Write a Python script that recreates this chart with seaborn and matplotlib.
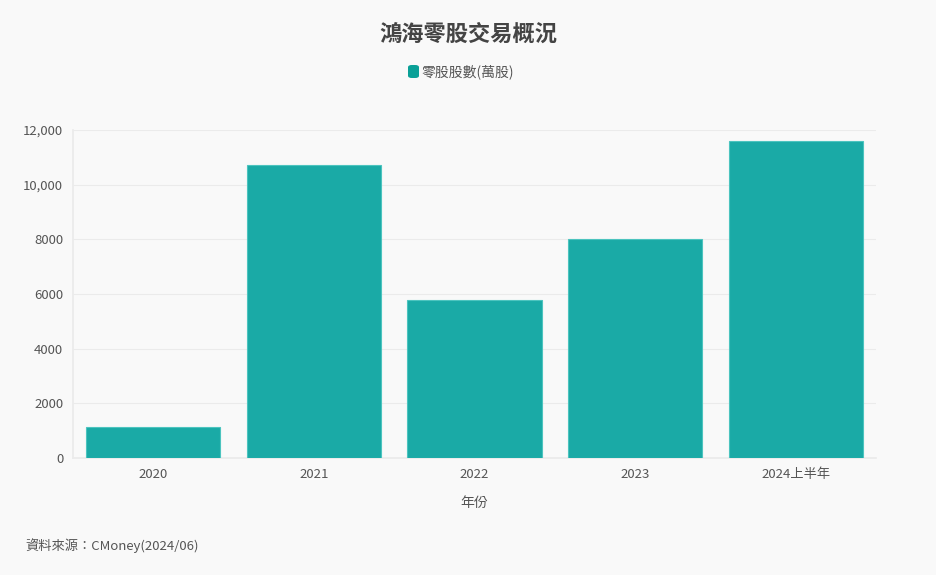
import matplotlib
matplotlib.use("Agg")
import matplotlib.pyplot as plt
import seaborn as sns
import pandas as pd
from matplotlib.patches import FancyBboxPatch

categories = ["2020", "2021", "2022", "2023", "2024上半年"]
values = [1120, 10730, 5790, 8020, 11600]
ytick_values = [0, 2000, 4000, 6000, 8000, 10000, 12000]
ytick_labels = ["0", "2000", "4000", "6000", "8000", "10,000", "12,000"]
title = "鴻海零股交易概況"
series_name = "零股股數(萬股)"
xlabel = "年份"
source = "資料來源：CMoney(2024/06)"

sns.set_theme(style="white")
plt.rcParams['font.family'] = ['Noto Sans CJK TC', 'DejaVu Sans']

bg = "#f9f9f9"
bar_color = "#1aaaa6"
text_color = "#555555"

df = pd.DataFrame({"year": categories, "value": values})

fig = plt.figure(figsize=(9.36, 5.75), dpi=100, facecolor=bg)
ax = fig.add_axes([73/936, 1 - 458/575, (876 - 73)/936, (458 - 130)/575])
ax.set_facecolor(bg)

sns.barplot(data=df, x="year", y="value", color=bar_color, width=0.835,
            saturation=1, edgecolor="#4cc4bf", linewidth=0.8, ax=ax, zorder=3)

ax.set_xlim(-0.5, 4.5)
ax.set_ylim(0, 12000)
ax.set_yticks(ytick_values)
ax.set_yticklabels(ytick_labels)
ax.grid(axis="y", color="#ebebeb", linewidth=0.8, zorder=0)
for s in ["top", "right"]:
    ax.spines[s].set_visible(False)
ax.spines["left"].set_color("#ebebeb")
ax.spines["bottom"].set_color("#ebebeb")
ax.tick_params(axis="x", length=5, color="#e0e0e0", colors=text_color, labelsize=9.5, pad=2)
ax.tick_params(axis="y", length=5, color="#e0e0e0", colors=text_color, labelsize=9.5, pad=2)
for lab in ax.get_xticklabels() + ax.get_yticklabels():
    lab.set_color(text_color)
ax.set_xlabel(xlabel, color=text_color, fontsize=10, labelpad=11)
ax.set_ylabel("")

fig.text(0.5, 1 - 34/575, title, ha="center", va="center", fontsize=16,
         fontweight="bold", color="#444444")

# legend
lx = 408/936
fig.patches.append(FancyBboxPatch((lx, 1 - 78/575), 11/936, 13/575,
                                  boxstyle="round,pad=0,rounding_size=0.004",
                                  transform=fig.transFigure, facecolor="#0aa097",
                                  edgecolor="none"))
fig.text(421/936, 1 - 72/575, series_name, ha="left", va="center", fontsize=10,
         color=text_color)

fig.text(25/936, 1 - 546/575, source, ha="left", va="center", fontsize=9.5,
         color=text_color)

fig.savefig("out.png", dpi=100, facecolor=bg)
